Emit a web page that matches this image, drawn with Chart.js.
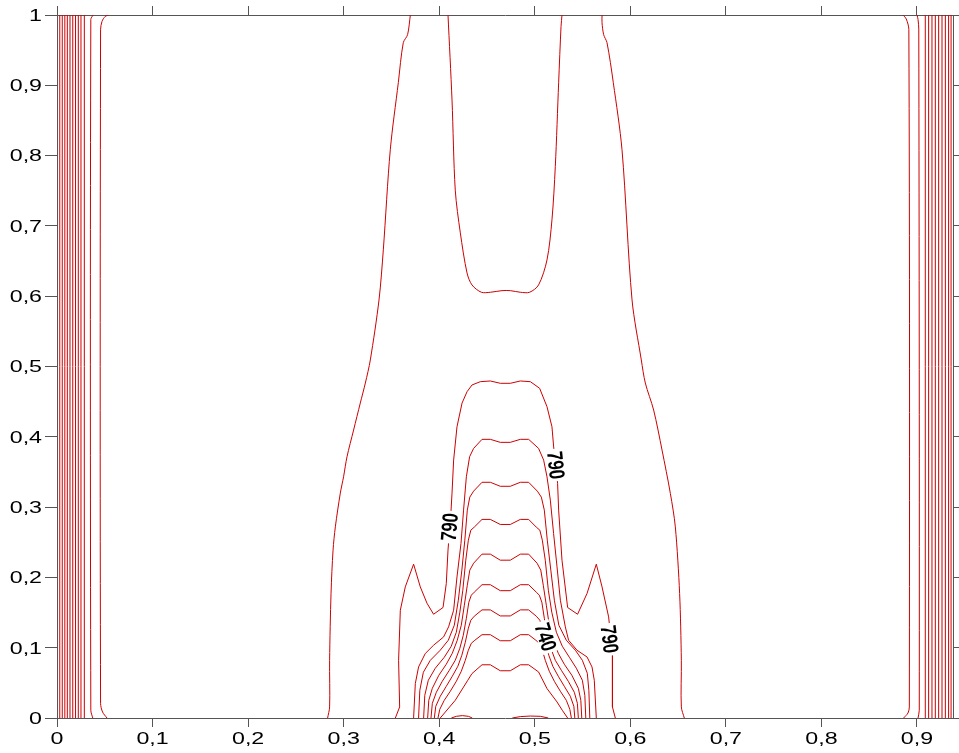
<!DOCTYPE html>
<html>
<head>
<meta charset="utf-8">
<title>Contour</title>
<script src="https://cdn.jsdelivr.net/npm/chart.js@4.4.0/dist/chart.umd.min.js"></script>
<style>
    html, body { margin: 0; padding: 0; background: #fff; }
    #wrap { width: 959px; height: 753px; }
</style>
</head>
<body>
<div id="wrap"><canvas id="contourChart" width="959" height="753"></canvas></div>
<script>
// ---- axis ranges / ticks ----
const xRange = [0, 0.9377];
const yRange = [0, 1];
const tickStep = 0.1;

// ---- vertical edge contours (x positions, run from y=0 to y=1) ----
const edgeLeftX = [0.0029, 0.0055, 0.0082, 0.0108, 0.0136, 0.0165, 0.0194, 0.0223, 0.0251, 0.0286];
const edgeRightX = [0.9087, 0.9122, 0.9157, 0.9192, 0.9227, 0.9262, 0.9297, 0.9331, 0.9357];

// ---- curved edge contours [x, y] ----
const edgeLeftA = [[0.0374, 0], [0.0354, 0.0110], [0.0354, 0.9937], [0.0377, 1]];
const edgeLeftB = [[0.0523, 0], [0.0477, 0.0085], [0.0456, 0.0209], [0.0456, 0.9789], [0.0471, 0.9909], [0.0505, 0.9980], [0.0540, 1]];
const edgeRightA = [[0.9011, 0], [0.9024, 0.0110], [0.9019, 0.9800], [0.9011, 0.9937], [0.9001, 1]];
const edgeRightB = [[0.8860, 0], [0.8906, 0.0071], [0.8920, 0.0157], [0.8915, 0.9794], [0.8888, 0.9943], [0.8854, 1]];

// ---- central contours [x, y] ----
const outerLeft = [[0.2832, 0], [0.2853, 0.0157], [0.2853, 0.0821], [0.2868, 0.1775], [0.2889, 0.2388], [0.2913, 0.2719],
    [0.2965, 0.3199], [0.2999, 0.3431], [0.3035, 0.3716], [0.3104, 0.4096], [0.3174, 0.4480], [0.3227, 0.4765],
    [0.3279, 0.5093], [0.3370, 0.5947], [0.3415, 0.6659], [0.3488, 0.8083], [0.3572, 0.9037], [0.3624, 0.9606],
    [0.3669, 0.9720], [0.3698, 1]];
const outerRight = [[0.6565, 0], [0.6534, 0.0157], [0.6534, 0.0821], [0.6516, 0.1771], [0.6471, 0.2719], [0.6419, 0.3195],
    [0.6332, 0.3811], [0.6244, 0.4381], [0.6157, 0.4765], [0.6115, 0.5093], [0.6018, 0.5947], [0.5913, 0.8083],
    [0.5822, 0.9037], [0.5756, 0.9606], [0.5721, 0.9720], [0.5704, 0.9890], [0.5704, 1]];
const upperU = [[0.4092, 1], [0.4134, 0.8790], [0.4168, 0.7509], [0.4221, 0.6901], [0.4291, 0.6331], [0.4343, 0.6160],
    [0.4441, 0.6056], [0.4535, 0.6056], [0.4657, 0.6079], [0.4744, 0.6079], [0.4849, 0.6056], [0.4946, 0.6056],
    [0.5040, 0.6160], [0.5128, 0.6516], [0.5180, 0.7086], [0.5215, 0.7845], [0.5250, 0.9036], [0.5275, 0.9838], [0.5285, 1]];
const c790 = [[0.3541, 0], [0.3586, 0.0157], [0.3575, 0.0821], [0.3593, 0.1533], [0.3645, 0.1865], [0.3732, 0.2188],
    [0.3802, 0.1865], [0.3872, 0.1633], [0.3941, 0.1476], [0.4040, 0.1572], [0.4074, 0.1913], [0.4092, 0.2388],
    [0.4123, 0.2933], [0.4134, 0.3199], [0.4151, 0.3669], [0.4186, 0.4143], [0.4239, 0.4480], [0.4291, 0.4641],
    [0.4343, 0.4737], [0.4430, 0.4784], [0.4535, 0.4794], [0.4640, 0.4761], [0.4744, 0.4761], [0.4849, 0.4794],
    [0.4954, 0.4784], [0.5051, 0.4690], [0.5128, 0.4428], [0.5180, 0.4143], [0.5197, 0.3868], [0.5239, 0.3337],
    [0.5250, 0.2957], [0.5285, 0.2245], [0.5344, 0.1572], [0.5448, 0.1476], [0.5547, 0.1771], [0.5644, 0.2188],
    [0.5704, 0.1865], [0.5773, 0.1438], [0.5813, 0.0907], [0.5813, 0.0157], [0.5843, 0]];
const c780 = [[0.3732, 0], [0.3750, 0.0490], [0.3784, 0.0726], [0.3854, 0.0917], [0.3941, 0.1035], [0.4046, 0.1153],
    [0.4098, 0.1296], [0.4151, 0.1533], [0.4186, 0.2007], [0.4228, 0.2483], [0.4255, 0.2957], [0.4284, 0.3431],
    [0.4318, 0.3716], [0.4360, 0.3835], [0.4448, 0.3964], [0.4535, 0.3964], [0.4639, 0.3921], [0.4744, 0.3921],
    [0.4849, 0.3964], [0.4936, 0.3964], [0.5040, 0.3835], [0.5093, 0.3669], [0.5128, 0.3431], [0.5163, 0.3099],
    [0.5197, 0.2625], [0.5233, 0.2150], [0.5268, 0.1676], [0.5320, 0.1296], [0.5354, 0.1106], [0.5442, 0.0964],
    [0.5547, 0.0868], [0.5599, 0.0726], [0.5623, 0.0537], [0.5644, 0]];
const c770 = [[0.3784, 0], [0.3797, 0.0394], [0.3834, 0.0651], [0.3907, 0.0821], [0.4011, 0.0964], [0.4095, 0.1106],
    [0.4158, 0.1320], [0.4200, 0.1676], [0.4237, 0.2103], [0.4268, 0.2530], [0.4294, 0.2957], [0.4320, 0.3142],
    [0.4360, 0.3227], [0.4448, 0.3353], [0.4535, 0.3353], [0.4639, 0.3296], [0.4744, 0.3296], [0.4849, 0.3353],
    [0.4936, 0.3353], [0.5027, 0.3227], [0.5069, 0.3142], [0.5100, 0.2957], [0.5131, 0.2530], [0.5168, 0.2103],
    [0.5205, 0.1676], [0.5252, 0.1320], [0.5330, 0.1106], [0.5425, 0.0964], [0.5498, 0.0821], [0.5550, 0.0636],
    [0.5566, 0.0394], [0.5576, 0]];
const c760 = [[0.3837, 0], [0.3849, 0.0323], [0.3886, 0.0537], [0.3959, 0.0708], [0.4053, 0.0864], [0.4126, 0.1021],
    [0.4179, 0.1220], [0.4216, 0.1505], [0.4247, 0.1818], [0.4278, 0.2245], [0.4305, 0.2530], [0.4331, 0.2672],
    [0.4367, 0.2715], [0.4448, 0.2825], [0.4535, 0.2825], [0.4639, 0.2753], [0.4744, 0.2753], [0.4849, 0.2825],
    [0.4936, 0.2825], [0.5016, 0.2715], [0.5053, 0.2672], [0.5079, 0.2530], [0.5110, 0.2245], [0.5142, 0.1818],
    [0.5178, 0.1505], [0.5226, 0.1220], [0.5288, 0.1021], [0.5362, 0.0864], [0.5435, 0.0708], [0.5498, 0.0537],
    [0.5524, 0.0323], [0.5534, 0]];
const c750 = [[0.3879, 0], [0.3891, 0.0252], [0.3928, 0.0423], [0.3996, 0.0608], [0.4074, 0.0765], [0.4137, 0.0921],
    [0.4189, 0.1106], [0.4231, 0.1320], [0.4263, 0.1604], [0.4294, 0.1889], [0.4320, 0.2103], [0.4360, 0.2202],
    [0.4448, 0.2331], [0.4535, 0.2331], [0.4639, 0.2245], [0.4744, 0.2245], [0.4849, 0.2331], [0.4936, 0.2331],
    [0.5024, 0.2202], [0.5063, 0.2103], [0.5089, 0.1889], [0.5121, 0.1604], [0.5152, 0.1320], [0.5194, 0.1106],
    [0.5246, 0.0921], [0.5309, 0.0765], [0.5388, 0.0608], [0.5456, 0.0423], [0.5482, 0.0252], [0.5492, 0]];
const c740 = [[0.3914, 0], [0.3928, 0.0209], [0.3970, 0.0366], [0.4032, 0.0522], [0.4106, 0.0679], [0.4168, 0.0821],
    [0.4216, 0.0992], [0.4252, 0.1177], [0.4284, 0.1419], [0.4310, 0.1647], [0.4336, 0.1747], [0.4367, 0.1790],
    [0.4448, 0.1896], [0.4535, 0.1896], [0.4639, 0.1811], [0.4744, 0.1811], [0.4849, 0.1896], [0.4936, 0.1896],
    [0.5016, 0.1790], [0.5048, 0.1747], [0.5074, 0.1647], [0.5100, 0.1419], [0.5131, 0.1177], [0.5168, 0.0992],
    [0.5215, 0.0821], [0.5278, 0.0679], [0.5351, 0.0522], [0.5414, 0.0366], [0.5446, 0.0209], [0.5456, 0]];
const c730 = [[0.3949, 0], [0.3964, 0.0167], [0.4011, 0.0309], [0.4074, 0.0451], [0.4137, 0.0594], [0.4195, 0.0736],
    [0.4237, 0.0893], [0.4273, 0.1078], [0.4305, 0.1277], [0.4331, 0.1391], [0.4367, 0.1448], [0.4448, 0.1538],
    [0.4535, 0.1538], [0.4639, 0.1452], [0.4744, 0.1452], [0.4849, 0.1538], [0.4936, 0.1538], [0.5016, 0.1448],
    [0.5053, 0.1391], [0.5079, 0.1277], [0.5110, 0.1078], [0.5147, 0.0893], [0.5189, 0.0736], [0.5246, 0.0594],
    [0.5309, 0.0451], [0.5372, 0.0309], [0.5409, 0.0167], [0.5419, 0]];
const c720 = [[0.3987, 0], [0.4006, 0.0124], [0.4053, 0.0252], [0.4116, 0.0380], [0.4179, 0.0522], [0.4231, 0.0665],
    [0.4273, 0.0821], [0.4305, 0.0964], [0.4336, 0.1063], [0.4373, 0.1106], [0.4448, 0.1185], [0.4535, 0.1185],
    [0.4639, 0.1099], [0.4744, 0.1099], [0.4849, 0.1185], [0.4936, 0.1185], [0.5011, 0.1106], [0.5048, 0.1063],
    [0.5079, 0.0964], [0.5110, 0.0821], [0.5152, 0.0665], [0.5205, 0.0522], [0.5268, 0.0380], [0.5330, 0.0252],
    [0.5367, 0.0124], [0.5383, 0]];
const c710 = [[0.4011, 0], [0.4064, 0.0085], [0.4168, 0.0252], [0.4255, 0.0441], [0.4299, 0.0537], [0.4343, 0.0632],
    [0.4448, 0.0757], [0.4535, 0.0757], [0.4639, 0.0672], [0.4744, 0.0672], [0.4849, 0.0757], [0.4936, 0.0757],
    [0.5040, 0.0655], [0.5128, 0.0419], [0.5233, 0.0228], [0.5288, 0.0110], [0.5344, 0]];
const bottomBumpA = [[0.4127, 0], [0.4179, 0.0024], [0.4242, 0.0034], [0.4305, 0.0024], [0.4346, 0]];
const bottomBumpB = [[0.4765, 0], [0.4849, 0.0020], [0.4954, 0.0028], [0.5058, 0.0024], [0.5142, 0]];

// ---- contour labels: text, anchor [x, y], angle in degrees ----
const labelText = ['790', '790', '740', '790'];
const labelPos = [[0.4111, 0.2715], [0.5218, 0.3598], [0.5110, 0.1150], [0.5780, 0.1119]];
const labelAngle = [-85.5, 84, 72, 83];

const LINE_RED = 'rgb(204, 0, 0)';
const AXIS_GREY = '#555';

function contourSet(points, tension) {
    return {
        data: points.map(p => ({ x: p[0], y: p[1] })),
        showLine: true,
        borderColor: LINE_RED,
        borderWidth: 1,
        pointRadius: 0,
        pointHoverRadius: 0,
        tension: tension || 0,
        fill: false
    };
}

const datasets = [];
edgeLeftX.concat(edgeRightX).forEach(x => datasets.push(contourSet([[x, yRange[0]], [x, yRange[1]]])));
[edgeLeftA, edgeLeftB, edgeRightA, edgeRightB, outerLeft, outerRight, upperU]
    .forEach(c => datasets.push(contourSet(c, 0.3)));
[c790, c780, c770, c760, c750, c740, c730, c720, c710, bottomBumpA, bottomBumpB]
    .forEach(c => datasets.push(contourSet(c, 0)));

function fmtTick(v) {
    const r = Math.round(v * 10) / 10;
    if (r === 0) return '0';
    if (r === 1) return '1';
    return r.toFixed(1).replace('.', ',');
}

// Draws the inline contour labels with a white gap behind them
const contourLabels = {
    id: 'contourLabels',
    afterDatasetsDraw(chart) {
        const { ctx, scales } = chart;
        labelText.forEach((txt, i) => {
            const px = scales.x.getPixelForValue(labelPos[i][0]);
            const py = scales.y.getPixelForValue(labelPos[i][1]);
            ctx.save();
            ctx.translate(px, py);
            ctx.rotate(labelAngle[i] * Math.PI / 180);
            ctx.scale(0.76, 1);
            ctx.font = 'bold 22px "Liberation Sans", Arial, sans-serif';
            const w = ctx.measureText(txt).width;
            ctx.fillStyle = '#fff';
            ctx.fillRect(-w / 2 - 3, -8.5, w + 6, 17);
            ctx.fillStyle = '#000';
            ctx.textAlign = 'center';
            ctx.textBaseline = 'middle';
            ctx.fillText(txt, 0, 1);
            ctx.restore();
        });
    }
};

// Tick labels in the wide face of the original, placed at the scale's own ticks
const wideTickLabels = {
    id: 'wideTickLabels',
    afterDraw(chart) {
        const { ctx, scales } = chart;
        const xs = scales.x, ys = scales.y;
        ctx.save();
        ctx.font = '16px "Liberation Sans", Arial, sans-serif';
        ctx.fillStyle = '#000';
        ctx.textBaseline = 'alphabetic';
        xs.ticks.forEach(t => {
            ctx.save();
            ctx.translate(xs.getPixelForValue(t.value), xs.top + 25.5);
            ctx.scale(1.45, 1);
            ctx.textAlign = 'center';
            ctx.fillText(fmtTick(t.value), 0, 0);
            ctx.restore();
        });
        ys.ticks.forEach(t => {
            ctx.save();
            ctx.translate(ys.right - 15, ys.getPixelForValue(t.value) + 5.8);
            ctx.scale(1.45, 1);
            ctx.textAlign = 'right';
            ctx.fillText(fmtTick(t.value), 0, 0);
            ctx.restore();
        });
        ctx.restore();
    }
};

new Chart(document.getElementById('contourChart'), {
    type: 'scatter',
    data: { datasets },
    options: {
        responsive: false,
        animation: false,
        devicePixelRatio: 1,
        layout: { padding: 0 },
        plugins: {
            legend: { display: false },
            tooltip: { enabled: false }
        },
        events: [],
        scales: {
            x: {
                type: 'linear', position: 'bottom',
                min: xRange[0], max: xRange[1],
                grid: { drawOnChartArea: false, drawTicks: true, tickLength: 9, color: AXIS_GREY },
                border: { color: AXIS_GREY },
                ticks: { stepSize: tickStep, includeBounds: false, display: false },
                afterFit: s => { s.height = 35; }
            },
            x2: {
                type: 'linear', position: 'top',
                min: xRange[0], max: xRange[1],
                grid: { drawOnChartArea: false, drawTicks: true, tickLength: 9, color: AXIS_GREY },
                border: { color: AXIS_GREY },
                ticks: { stepSize: tickStep, includeBounds: false, display: false },
                afterFit: s => { s.height = 15; }
            },
            y: {
                type: 'linear', position: 'left',
                min: yRange[0], max: yRange[1],
                grid: { drawOnChartArea: false, drawTicks: true, tickLength: 12, color: AXIS_GREY },
                border: { color: AXIS_GREY },
                ticks: { stepSize: tickStep, display: false },
                afterFit: s => { s.width = 57; }
            },
            y2: {
                type: 'linear', position: 'right',
                min: yRange[0], max: yRange[1],
                grid: { drawOnChartArea: false, drawTicks: true, tickLength: 6, color: AXIS_GREY },
                border: { color: AXIS_GREY },
                ticks: { stepSize: tickStep, display: false },
                afterFit: s => { s.width = 6; }
            }
        }
    },
    plugins: [contourLabels, wideTickLabels]
});
</script>
</body>
</html>
